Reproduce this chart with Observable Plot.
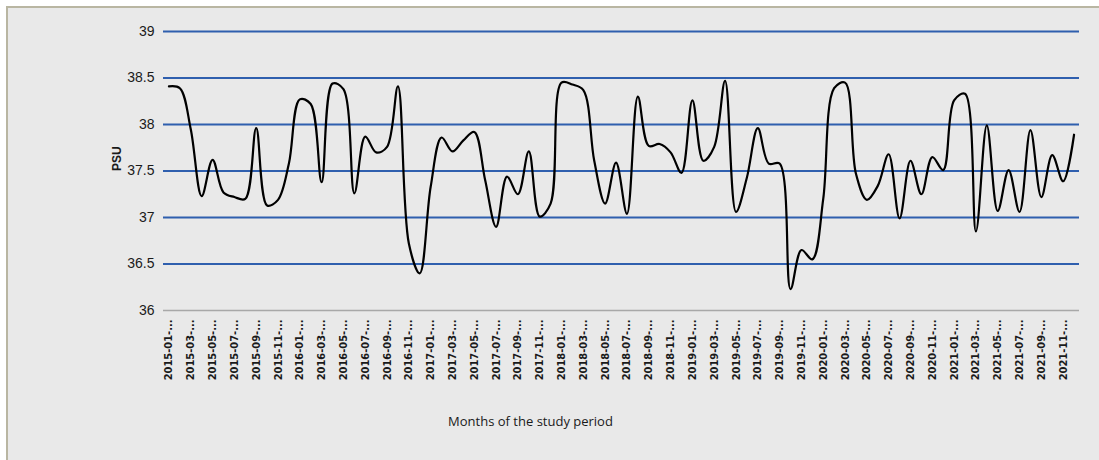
<!DOCTYPE html>
<html>
<head>
<meta charset="utf-8">
<script src="https://cdn.jsdelivr.net/npm/d3@7"></script>
<script src="https://cdn.jsdelivr.net/npm/@observablehq/plot@0.6"></script>
<style>
  html, body { margin: 0; padding: 0; background: #ffffff; }
  #frame {
    position: absolute; left: 6px; top: 6px;
    width: 1093px; height: 454px;
    border-left: 2px solid #b9b6a2; border-top: 2px solid #b9b6a2;
    background: #e9e9e9;
  }
  #frame svg { display: block; }
</style>
</head>
<body>
<div id="frame"></div>
<script>
// Monthly salinity (PSU), 2015-01 .. 2021-12
const years = [2015, 2016, 2017, 2018, 2019, 2020, 2021];
const months = years.flatMap(y => d3.range(1, 13).map(m => `${y}-${String(m).padStart(2, "0")}`));

const psu = [
  // 2015
  38.41, 38.39, 37.95, 37.23, 37.62, 37.27, 37.22, 37.20, 37.96, 37.13, 37.19, 37.58,
  // 2016
  38.27, 38.22, 37.38, 38.44, 38.38, 37.26, 37.87, 37.70, 37.76, 38.41, 36.72, 36.40,
  // 2017
  37.33, 37.86, 37.71, 37.83, 37.92, 37.40, 36.90, 37.44, 37.25, 37.71, 37.01, 37.15,
  // 2018
  38.45, 38.43, 38.37, 37.61, 37.15, 37.59, 37.04, 38.30, 37.77, 37.79, 37.70, 37.48,
  // 2019
  38.26, 37.61, 37.76, 38.47, 37.06, 37.43, 37.96, 37.58, 37.58, 36.23, 36.65, 36.55,
  // 2020
  37.20, 38.39, 38.45, 37.47, 37.19, 37.34, 37.68, 36.99, 37.61, 37.25, 37.65, 37.51,
  // 2021
  38.26, 38.33, 36.85, 37.99, 37.07, 37.51, 37.06, 37.94, 37.22, 37.67, 37.39, 37.89
];

const tickMonths = months.filter((d, i) => i % 2 === 0);
const blueGrid = [36.5, 37, 37.5, 38, 38.5, 39];
const yTicks = [36, 36.5, 37, 37.5, 38, 38.5, 39];

const data = months.map((m, i) => ({month: m, value: psu[i]}));

const chart = Plot.plot({
  width: 1091,
  height: 452,
  marginLeft: 155,
  marginRight: 20,
  marginTop: 23,
  marginBottom: 150,
  style: {background: "transparent", color: "#1a1a1a"},
  x: {type: "point", domain: months, padding: 0.5, label: null},
  y: {domain: [36, 39], label: null},
  marks: [
    Plot.ruleY(blueGrid, {stroke: "#2f5fae", strokeWidth: 2}),
    Plot.ruleY([36], {stroke: "#a8a8a8", strokeWidth: 1.5}),
    Plot.axisY({
      ticks: yTicks, tickSize: 0, tickPadding: 9,
      tickFormat: d => String(d),
      fontSize: 14, fontFamily: "Liberation Sans Narrow, Liberation Sans, sans-serif",
      label: null
    }),
    Plot.axisX({
      ticks: tickMonths, tickSize: 0, tickPadding: 9, tickRotate: -90,
      tickFormat: d => d + "-...",
      fontSize: 11, fontWeight: "bold", fontFamily: "DejaVu Sans Condensed, DejaVu Sans, sans-serif",
      label: null
    }),
    Plot.line(data, {x: "month", y: "value", stroke: "#000", strokeWidth: 2.2, curve: "catmull-rom"}),
    Plot.text(["PSU"], {
      frameAnchor: "left", dx: -46, rotate: -90, text: d => d,
      fontSize: 12, fontWeight: "bold", fontFamily: "Liberation Sans Narrow, Liberation Sans, sans-serif", fill: "#1a1a1a"
    }),
    Plot.text(["Months of the study period"], {
      frameAnchor: "bottom", dy: 115, dx: -91, text: d => d,
      fontSize: 13, fontFamily: "Open Sans, sans-serif", fill: "#1a1a1a"
    })
  ]
});

document.getElementById("frame").appendChild(chart);
</script>
</body>
</html>
